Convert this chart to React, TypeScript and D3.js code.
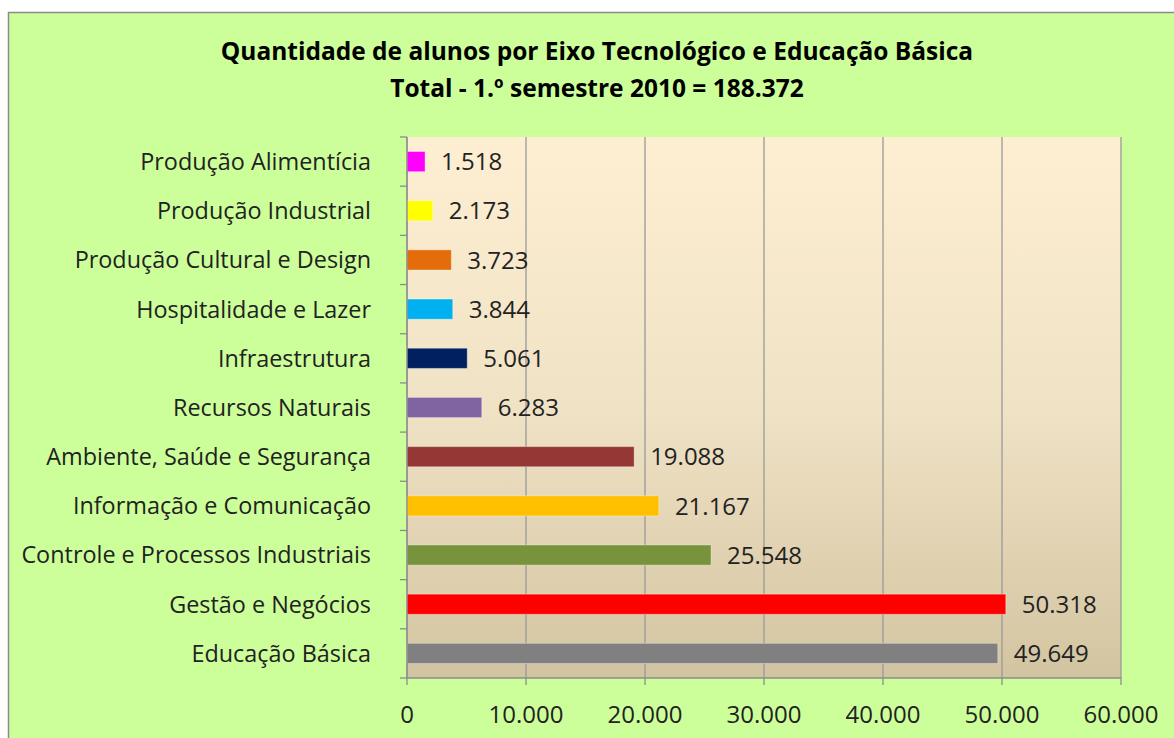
import React from "react";
import * as d3 from "d3";

const categories = [
  "Produção Alimentícia",
  "Produção Industrial",
  "Produção Cultural e Design",
  "Hospitalidade e Lazer",
  "Infraestrutura",
  "Recursos Naturais",
  "Ambiente, Saúde e Segurança",
  "Informação e Comunicação",
  "Controle e Processos Industriais",
  "Gestão e Negócios",
  "Educação Básica",
];
const values = [1518, 2173, 3723, 3844, 5061, 6283, 19088, 21167, 25548, 50318, 49649];
const colors = [
  "#FF00FF", "#FFFF00", "#E46C0A", "#00B0F0", "#002060", "#8064A2",
  "#953735", "#FFC000", "#77933C", "#FF0000", "#808080",
];
const xTicks = [0, 10000, 20000, 30000, 40000, 50000, 60000];
const titleLines = [
  "Quantidade de alunos por Eixo Tecnológico e Educação Básica",
  "Total - 1.º semestre 2010 = 188.372",
];

const fmt = (v: number) => d3.format(",")(v).replace(/,/g, ".");

export default function App() {
  const W = 1174, H = 738;
  const left = 407, right = 1121, top = 137, bottom = 678;
  const x = d3.scaleLinear().domain([0, 60000]).range([left, right]);
  const y = d3.scaleBand<string>().domain(categories).range([top, bottom]).paddingInner(0.59).paddingOuter(0.295);
  const font = "'Open Sans', sans-serif";
  const bandStep = (bottom - top) / categories.length;
  return (
    <svg width={W} height={H} style={{ position: "absolute", left: 0, top: 0 }}>
      <defs>
        <linearGradient id="plotbg" x1="0" y1="0" x2="0" y2="1">
          <stop offset="0" stopColor="#FEEFD3" />
          <stop offset="0.5" stopColor="#F0E2C5" />
          <stop offset="1" stopColor="#D3C4A1" />
        </linearGradient>
      </defs>
      <rect x={0} y={0} width={W} height={H} fill="#FFFFFF" />
      <rect x={8.5} y={12.5} width={W + 20} height={H} fill="#CCFF99" stroke="#8C8C8C" strokeWidth={1.5} />
      {titleLines.map((t, i) => (
        <text key={i} x={597} y={60 + i * 37} textAnchor="middle" fontFamily={font} fontWeight="bold" fontSize={24.5} fill="#000">
          {t}
        </text>
      ))}
      <rect x={left} y={top} width={right - left} height={bottom - top} fill="url(#plotbg)" />
      {xTicks.map((t) => (
        <line key={"g" + t} x1={x(t)} x2={x(t)} y1={top} y2={bottom} stroke="#9A9A9A" strokeWidth={1.3} />
      ))}
      {categories.map((c, i) => (
        <g key={c}>
          <rect x={x(0)} y={y(c)!} width={x(values[i]) - x(0)} height={y.bandwidth()} fill={colors[i]} stroke="rgba(255,255,255,0.35)" strokeWidth={1} />
          <text x={x(values[i]) + 16} y={y(c)! + y.bandwidth() / 2} dy="0.36em" fontFamily={font} fontSize={24} fill="#222">
            {fmt(values[i])}
          </text>
          <text x={371} y={y(c)! + y.bandwidth() / 2} dy="0.36em" textAnchor="end" fontFamily={font} fontSize={23.4} fill="#222">
            {c}
          </text>
        </g>
      ))}
      {d3.range(categories.length + 1).map((k) => (
        <line key={"yt" + k} x1={400} x2={left} y1={top + k * bandStep} y2={top + k * bandStep} stroke="#8C8C8C" strokeWidth={1.3} />
      ))}
      <line x1={left} x2={left} y1={top} y2={bottom} stroke="#8C8C8C" strokeWidth={1.3} />
      <line x1={left} x2={right} y1={bottom} y2={bottom} stroke="#8C8C8C" strokeWidth={1.3} />
      {xTicks.map((t) => (
        <g key={"xt" + t}>
          <line x1={x(t)} x2={x(t)} y1={bottom} y2={bottom + 7} stroke="#8C8C8C" strokeWidth={1.3} />
          <text x={x(t)} y={714} dy="0.36em" textAnchor="middle" fontFamily={font} fontSize={24} fill="#222">
            {fmt(t)}
          </text>
        </g>
      ))}
    </svg>
  );
}
